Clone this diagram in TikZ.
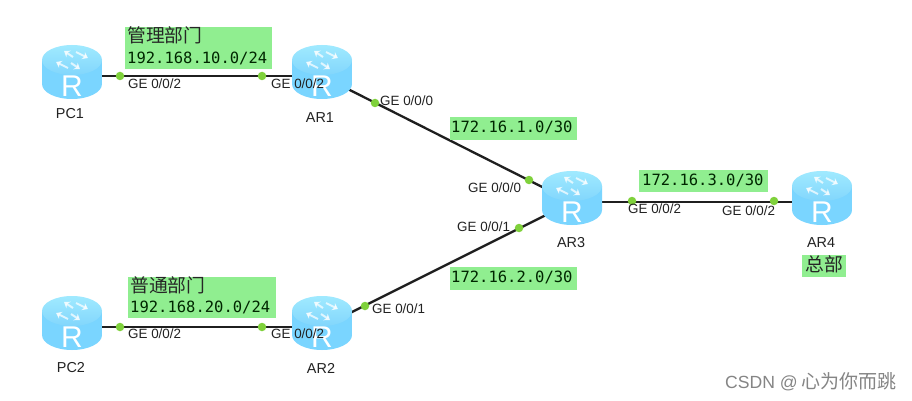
\documentclass[tikz,border=0pt]{standalone}
\usepackage{fontspec}
\setmainfont{Liberation Sans}
\newfontfamily\cjkfont{Noto Sans CJK SC}
\newfontfamily\netfont{DejaVu Sans Mono}
\usetikzlibrary{arrows.meta}
\definecolor{labelgreen}{HTML}{90EE90}
\definecolor{portdot}{HTML}{7FD13B}
\definecolor{inktext}{HTML}{222222}
\definecolor{bodyedge}{HTML}{7AD5FF}
\definecolor{bodymid}{HTML}{B4ECFF}
\definecolor{toplight}{HTML}{A0EAFF}
\definecolor{topdark}{HTML}{82D6FC}
\tikzset{
  routerslot/.style={minimum width=60pt,minimum height=54pt,inner sep=0pt},
  link/.style={draw=black!88,line width=2.3pt},
  portdotnode/.style={circle,fill=portdot,minimum size=8.5pt,inner sep=0pt},
  portlabel/.style={anchor=west,inner sep=0pt,text=inktext,font=\fontsize{13.4}{15}\selectfont},
  devlabel/.style={inner sep=0pt,text=inktext,font=\fontsize{14.4}{16}\selectfont},
  netbox/.style={fill=labelgreen,anchor=north west,inner sep=0pt},
  nettext/.style={anchor=west,inner sep=0pt,text=black!85!green,font=\netfont\fontsize{15.5}{18}\selectfont},
  cjktext/.style={anchor=west,inner sep=0pt,text=black!85,font=\cjkfont\fontsize{18.8}{20}\selectfont},
  arr/.style={draw=white,line width=2pt,-{Stealth[length=5.5pt,width=8pt]},opacity=.72},
  routericon/.pic={
    \begin{scope}[y=1pt]
      \shade[left color=bodyedge,middle color=bodymid,right color=bodyedge]
        (-30,16) -- (-30,-8) arc[start angle=180,end angle=360,x radius=30,y radius=15] -- (30,16) -- cycle;
      \shade[top color=toplight,bottom color=topdark]
        (0,16) ellipse[x radius=30,y radius=15];
      \path[arr] (1,19) -- (-8,25);
      \path[arr] (4,24) -- (16,18);
      \path[arr] (-1,13) -- (8,7);
      \path[arr] (-4,8) -- (-16,14);
      \node[inner sep=0pt,text=white,font=\fontsize{30}{30}\selectfont] at (0,-10) {R};
    \end{scope}
  }
}
\begin{document}
\begin{tikzpicture}[x=1pt,y=-1pt]
\useasboundingbox[fill=white] (0,0) rectangle (912,401);
% device slots
\node[routerslot] (pc1) at (72,76) {};
\node[routerslot] (ar1) at (322,76) {};
\node[routerslot] (pc2) at (72,327) {};
\node[routerslot] (ar2) at (322,327) {};
\node[routerslot] (ar3) at (572,202) {};
\node[routerslot] (ar4) at (822,202) {};
% connectors
\draw[link] (pc1.center) -- (ar1.center);
\draw[link] (pc2.center) -- (ar2.center);
\draw[link] (ar1.center) -- (ar3.center);
\draw[link] (ar2.center) -- (ar3.center);
\draw[link] (ar3.center) -- (ar4.center);
% routers
\foreach \r in {pc1,ar1,pc2,ar2,ar3,ar4} { \pic at (\r.center) {routericon}; }
% port dots
\node[portdotnode] (p1) at (120,76) {};
\node[portdotnode] (p2) at (262,76) {};
\node[portdotnode] (p3) at (120,327) {};
\node[portdotnode] (p4) at (262,327) {};
\node[portdotnode] (p5) at (375,103) {};
\node[portdotnode] (p6) at (529,180) {};
\node[portdotnode] (p7) at (365,306) {};
\node[portdotnode] (p8) at (519,228) {};
\node[portdotnode] (p9) at (632,201) {};
\node[portdotnode] (p10) at (774,201) {};
% port labels
\node[portlabel] (g1) at (128,84) {GE 0/0/2};
\node[portlabel] (g2) at (271,84) {GE 0/0/2};
\node[portlabel] (g3) at (128,334) {GE 0/0/2};
\node[portlabel] (g4) at (271,334) {GE 0/0/2};
\node[portlabel] (g5) at (380,101) {GE 0/0/0};
\node[portlabel] (g6) at (468,188) {GE 0/0/0};
\node[portlabel] (g7) at (372,309) {GE 0/0/1};
\node[portlabel] (g8) at (457,227) {GE 0/0/1};
\node[portlabel] (g9) at (628,209) {GE 0/0/2};
\node[portlabel] (g10) at (722,211) {GE 0/0/2};
% device labels
\node[devlabel] (l1) at (70,114) {PC1};
\node[devlabel] (l2) at (320,118) {AR1};
\node[devlabel] (l3) at (71,368) {PC2};
\node[devlabel] (l4) at (321,368) {AR2};
\node[devlabel] (l5) at (571,243) {AR3};
\node[devlabel] (l6) at (821,243) {AR4};
% network boxes
\node[netbox,minimum width=147pt,minimum height=42pt] (n1) at (125,27) {};
\node[cjktext] (n1a) at (127,35.5) {管理部门};
\node[nettext] (n1b) at (127,58) {192.168.10.0/24};
\node[netbox,minimum width=148pt,minimum height=41pt] (n2) at (128,277) {};
\node[cjktext] (n2a) at (130,285.5) {普通部门};
\node[nettext] (n2b) at (130,307) {192.168.20.0/24};
\node[netbox,minimum width=127pt,minimum height=23pt] (n3) at (450,117) {};
\node[nettext] (n3a) at (451,127.5) {172.16.1.0/30};
\node[netbox,minimum width=127pt,minimum height=23pt] (n4) at (450,267) {};
\node[nettext] (n4a) at (451,277.5) {172.16.2.0/30};
\node[netbox,minimum width=129pt,minimum height=22pt] (n5) at (639,170) {};
\node[nettext] (n5a) at (642,180) {172.16.3.0/30};
\node[netbox,minimum width=44pt,minimum height=22pt] (n6) at (802,255) {};
\node[cjktext] (n6a) at (805,264) {总部};
% watermark
\node[anchor=west,inner sep=0pt,text=black!48,font=\fontsize{17.6}{20}\selectfont] (wm) at (725,382) {CSDN @{\cjkfont\fontsize{19}{20}\selectfont\hspace{4pt}心为你而跳}};
\end{tikzpicture}
\end{document}
